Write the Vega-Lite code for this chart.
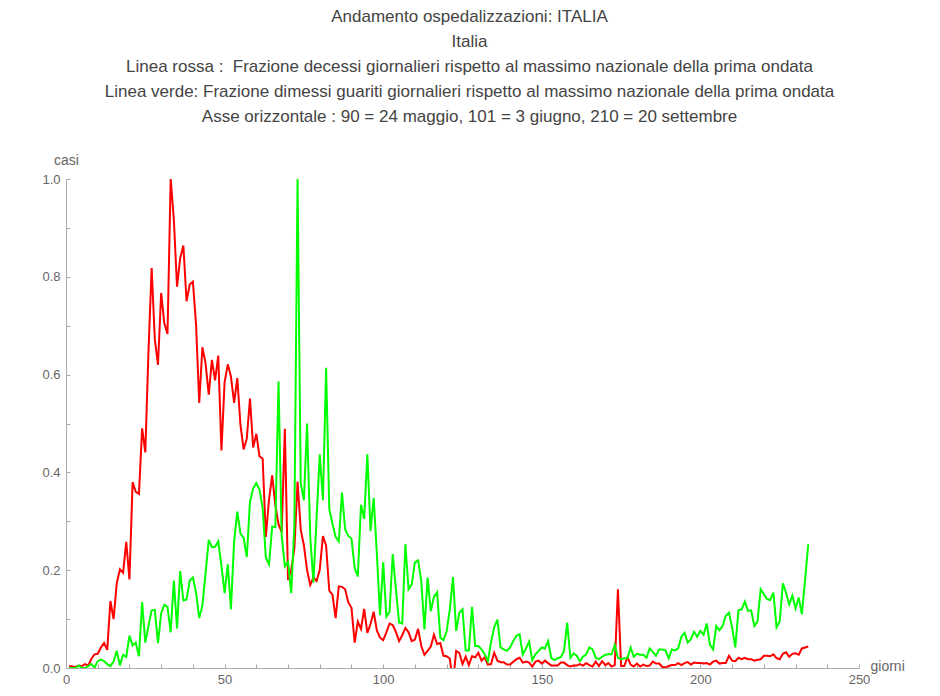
{
  "$schema": "https://vega.github.io/schema/vega-lite/v6.json",
  "width": 793,
  "height": 489,
  "autosize": "none",
  "padding": {"left": 66, "top": 179, "right": 81, "bottom": 28},
  "background": "white",
  "title": {
    "text": [
      "Andamento ospedalizzazioni: ITALIA",
      "Italia",
      "Linea rossa :\u00a0 Frazione decessi giornalieri rispetto al massimo nazionale della prima ondata",
      "Linea verde: Frazione dimessi guariti giornalieri rispetto al massimo nazionale della prima ondata",
      "Asse orizzontale : 90 = 24 maggio, 101 = 3 giugno, 210 = 20 settembre"
    ],
    "anchor": "middle",
    "frame": "group",
    "dx": 7,
    "offset": 27,
    "font": "Liberation Sans",
    "fontSize": 17,
    "fontWeight": "normal",
    "color": "#444444",
    "lineHeight": 25
  },
  "config": {
    "view": {"stroke": null},
    "axis": {
      "grid": false,
      "domainColor": "#aaaaaa",
      "domainWidth": 1,
      "tickColor": "#aaaaaa",
      "labelColor": "#666666",
      "labelFont": "Liberation Sans",
      "labelFontSize": 13,
      "titleFont": "Liberation Sans",
      "titleFontSize": 14,
      "titleFontWeight": "normal",
      "titleColor": "#666666"
    }
  },
  "data": {
    "values": [
      {"g":1,"r":0.004,"v":0},{"g":2,"r":0.003,"v":0},{"g":3,"r":0.002,"v":0},{"g":4,"r":0.005,"v":0.005},{"g":5,"r":0.004,"v":0},
      {"g":6,"r":0.008,"v":0},{"g":7,"r":0.005,"v":0.004},{"g":8,"r":0.019,"v":0.008},{"g":9,"r":0.028,"v":0.001},{"g":10,"r":0.029,"v":0.014},
      {"g":11,"r":0.042,"v":0.017},{"g":12,"r":0.051,"v":0.014},{"g":13,"r":0.037,"v":0.008},{"g":14,"r":0.137,"v":0.004},{"g":15,"r":0.100,"v":0.013},
      {"g":16,"r":0.173,"v":0.035},{"g":17,"r":0.202,"v":0.005},{"g":18,"r":0.195,"v":0.027},{"g":19,"r":0.258,"v":0.023},{"g":20,"r":0.181,"v":0.066},
      {"g":21,"r":0.380,"v":0.046},{"g":22,"r":0.360,"v":0.052},{"g":23,"r":0.356,"v":0.024},{"g":24,"r":0.490,"v":0.135},{"g":25,"r":0.441,"v":0.052},
      {"g":26,"r":0.647,"v":0.086},{"g":27,"r":0.818,"v":0.118},{"g":28,"r":0.672,"v":0.119},{"g":29,"r":0.620,"v":0.051},{"g":30,"r":0.767,"v":0.112},
      {"g":31,"r":0.705,"v":0.129},{"g":32,"r":0.683,"v":0.125},{"g":33,"r":1.000,"v":0.073},{"g":34,"r":0.917,"v":0.179},{"g":35,"r":0.780,"v":0.081},
      {"g":36,"r":0.838,"v":0.198},{"g":37,"r":0.864,"v":0.138},{"g":38,"r":0.750,"v":0.140},{"g":39,"r":0.784,"v":0.179},{"g":40,"r":0.790,"v":0.185},
      {"g":41,"r":0.703,"v":0.154},{"g":42,"r":0.542,"v":0.102},{"g":43,"r":0.656,"v":0.128},{"g":44,"r":0.623,"v":0.194},{"g":45,"r":0.559,"v":0.262},
      {"g":46,"r":0.630,"v":0.247},{"g":47,"r":0.588,"v":0.248},{"g":48,"r":0.639,"v":0.259},{"g":49,"r":0.445,"v":0.209},{"g":50,"r":0.584,"v":0.153},
      {"g":51,"r":0.621,"v":0.212},{"g":52,"r":0.596,"v":0.120},{"g":53,"r":0.542,"v":0.259},{"g":54,"r":0.593,"v":0.320},{"g":55,"r":0.497,"v":0.275},
      {"g":56,"r":0.447,"v":0.266},{"g":57,"r":0.469,"v":0.227},{"g":58,"r":0.551,"v":0.340},{"g":59,"r":0.451,"v":0.367},{"g":60,"r":0.479,"v":0.378},
      {"g":61,"r":0.433,"v":0.365},{"g":62,"r":0.428,"v":0.327},{"g":63,"r":0.268,"v":0.226},{"g":64,"r":0.344,"v":0.212},{"g":65,"r":0.394,"v":0.289},
      {"g":66,"r":0.333,"v":0.288},{"g":67,"r":0.294,"v":0.586},{"g":68,"r":0.278,"v":0.270},{"g":69,"r":0.489,"v":0.208},{"g":70,"r":0.180,"v":0.217},
      {"g":71,"r":0.201,"v":0.153},{"g":72,"r":0.244,"v":0.293},{"g":73,"r":0.381,"v":1.000},{"g":74,"r":0.283,"v":0.378},{"g":75,"r":0.251,"v":0.343},
      {"g":76,"r":0.200,"v":0.500},{"g":77,"r":0.170,"v":0.269},{"g":78,"r":0.185,"v":0.175},{"g":79,"r":0.178,"v":0.306},{"g":80,"r":0.201,"v":0.437},
      {"g":81,"r":0.270,"v":0.343},{"g":82,"r":0.250,"v":0.614},{"g":83,"r":0.158,"v":0.325},{"g":84,"r":0.150,"v":0.295},{"g":85,"r":0.102,"v":0.268},
      {"g":86,"r":0.167,"v":0.259},{"g":87,"r":0.166,"v":0.359},{"g":88,"r":0.161,"v":0.284},{"g":89,"r":0.134,"v":0.270},{"g":90,"r":0.123,"v":0.265},
      {"g":91,"r":0.052,"v":0.205},{"g":92,"r":0.095,"v":0.187},{"g":93,"r":0.080,"v":0.334},{"g":94,"r":0.121,"v":0.305},{"g":95,"r":0.072,"v":0.437},
      {"g":96,"r":0.090,"v":0.280},{"g":97,"r":0.115,"v":0.348},{"g":98,"r":0.077,"v":0.234},{"g":99,"r":0.062,"v":0.108},{"g":100,"r":0.057,"v":0.216},
      {"g":101,"r":0.073,"v":0.105},{"g":102,"r":0.091,"v":0.115},{"g":103,"r":0.088,"v":0.233},{"g":104,"r":0.074,"v":0.162},{"g":105,"r":0.055,"v":0.093},
      {"g":106,"r":0.067,"v":0.091},{"g":107,"r":0.082,"v":0.253},{"g":108,"r":0.073,"v":0.161},{"g":109,"r":0.055,"v":0.171},{"g":110,"r":0.058,"v":0.216},
      {"g":111,"r":0.080,"v":0.220},{"g":112,"r":0.045,"v":0.178},{"g":113,"r":0.027,"v":0.079},{"g":114,"r":0.035,"v":0.185},{"g":115,"r":0.044,"v":0.116},
      {"g":116,"r":0.068,"v":0.146},{"g":117,"r":0.049,"v":0.155},{"g":118,"r":0.051,"v":0.062},{"g":119,"r":0.025,"v":0.057},{"g":120,"r":0.024,"v":0.075},
      {"g":121,"r":0.019,"v":0.120},{"g":122,"r":-0.032,"v":0.186},{"g":123,"r":0.035,"v":0.076},{"g":124,"r":0.031,"v":0.113},{"g":125,"r":0.008,"v":0.120},
      {"g":126,"r":0.023,"v":0.036},{"g":127,"r":0.006,"v":0.036},{"g":128,"r":0.024,"v":0.125},{"g":129,"r":0.022,"v":0.045},{"g":130,"r":0.031,"v":0.045},
      {"g":131,"r":0.015,"v":0.038},{"g":132,"r":0.022,"v":0.028},{"g":133,"r":0.007,"v":0.014},{"g":134,"r":0.008,"v":0.053},{"g":135,"r":0.031,"v":0.083},
      {"g":136,"r":0.015,"v":0.099},{"g":137,"r":0.012,"v":0.042},{"g":138,"r":0.012,"v":0.038},{"g":139,"r":0.007,"v":0.035},{"g":140,"r":0.007,"v":0.042},
      {"g":141,"r":0.013,"v":0.055},{"g":142,"r":0.018,"v":0.066},{"g":143,"r":0.021,"v":0.069},{"g":144,"r":0.011,"v":0.028},{"g":145,"r":0.013,"v":0.040},
      {"g":146,"r":0.011,"v":0.054},{"g":147,"r":0.003,"v":0.016},{"g":148,"r":0.013,"v":0.028},{"g":149,"r":0.015,"v":0.035},{"g":150,"r":0.009,"v":0.042},
      {"g":151,"r":0.015,"v":0.040},{"g":152,"r":0.010,"v":0.055},{"g":153,"r":0.005,"v":0.020},{"g":154,"r":0.005,"v":0.016},{"g":155,"r":0.005,"v":0.020},
      {"g":156,"r":0.011,"v":0.022},{"g":157,"r":0.011,"v":0.035},{"g":158,"r":0.006,"v":0.093},{"g":159,"r":0.003,"v":0.021},{"g":160,"r":0.005,"v":0.030},
      {"g":161,"r":0.005,"v":0.025},{"g":162,"r":0.008,"v":0.014},{"g":163,"r":0.005,"v":0.023},{"g":164,"r":0.010,"v":0.028},{"g":165,"r":0.006,"v":0.042},
      {"g":166,"r":0.003,"v":0.038},{"g":167,"r":0.013,"v":0.021},{"g":168,"r":0.004,"v":0.018},{"g":169,"r":0.014,"v":0.023},{"g":170,"r":0.006,"v":0.027},
      {"g":171,"r":0.010,"v":0.028},{"g":172,"r":0.003,"v":0.028},{"g":173,"r":0.006,"v":0.047},{"g":174,"r":0.161,"v":0.021},{"g":175,"r":0.004,"v":0.018},
      {"g":176,"r":0.004,"v":0.020},{"g":177,"r":0.022,"v":0.020},{"g":178,"r":0.007,"v":0.042},{"g":179,"r":0.003,"v":0.023},{"g":180,"r":0.009,"v":0.029},
      {"g":181,"r":0.003,"v":0.027},{"g":182,"r":0.007,"v":0.027},{"g":183,"r":0.004,"v":0.021},{"g":184,"r":0.005,"v":0.040},{"g":185,"r":0.013,"v":0.033},
      {"g":186,"r":0.009,"v":0.025},{"g":187,"r":0.009,"v":0.038},{"g":188,"r":0.002,"v":0.038},{"g":189,"r":0.001,"v":0.036},{"g":190,"r":0.004,"v":0.020},
      {"g":191,"r":0.006,"v":0.038},{"g":192,"r":0.006,"v":0.036},{"g":193,"r":0.010,"v":0.040},{"g":194,"r":0.006,"v":0.064},{"g":195,"r":0.010,"v":0.072},
      {"g":196,"r":0.012,"v":0.052},{"g":197,"r":0.007,"v":0.059},{"g":198,"r":0.011,"v":0.074},{"g":199,"r":0.010,"v":0.064},{"g":200,"r":0.010,"v":0.076},
      {"g":201,"r":0.009,"v":0.068},{"g":202,"r":0.010,"v":0.091},{"g":203,"r":0.007,"v":0.048},{"g":204,"r":0.013,"v":0.038},{"g":205,"r":0.015,"v":0.086},
      {"g":206,"r":0.009,"v":0.077},{"g":207,"r":0.010,"v":0.086},{"g":208,"r":0.010,"v":0.107},{"g":209,"r":0.025,"v":0.113},{"g":210,"r":0.015,"v":0.083},
      {"g":211,"r":0.014,"v":0.042},{"g":212,"r":0.021,"v":0.118},{"g":213,"r":0.018,"v":0.120},{"g":214,"r":0.021,"v":0.136},{"g":215,"r":0.018,"v":0.117},
      {"g":216,"r":0.018,"v":0.118},{"g":217,"r":0.015,"v":0.086},{"g":218,"r":0.017,"v":0.095},{"g":219,"r":0.018,"v":0.161},{"g":220,"r":0.025,"v":0.151},
      {"g":221,"r":0.025,"v":0.141},{"g":222,"r":0.024,"v":0.139},{"g":223,"r":0.028,"v":0.154},{"g":224,"r":0.020,"v":0.083},{"g":225,"r":0.018,"v":0.095},
      {"g":226,"r":0.029,"v":0.173},{"g":227,"r":0.032,"v":0.154},{"g":228,"r":0.023,"v":0.130},{"g":229,"r":0.029,"v":0.148},{"g":230,"r":0.030,"v":0.122},
      {"g":231,"r":0.027,"v":0.144},{"g":232,"r":0.040,"v":0.110},{"g":233,"r":0.042,"v":0.180},{"g":234,"r":0.044,"v":0.253}
    ]
  },
  "encoding": {
    "x": {
      "field": "g",
      "type": "quantitative",
      "scale": {"domain": [0, 250], "nice": false, "zero": true},
      "axis": {
        "values": [0,10,20,30,40,50,60,70,80,90,100,110,120,130,140,150,160,170,180,190,200,210,220,230,240,250],
        "labelExpr": "datum.value % 50 === 0 ? datum.label : ''",
        "tickSize": -4,
        "labelPadding": 9,
        "labelFlush": false,
        "labelOverlap": false,
        "title": "giorni",
        "titleAnchor": "start",
        "titleAlign": "left",
        "titleBaseline": "middle",
        "titleX": 804,
        "titleY": -2
      }
    }
  },
  "layer": [
    {
      "mark": {"type": "line", "color": "#ff0000", "strokeWidth": 2, "clip": true},
      "encoding": {
        "y": {
          "field": "r",
          "type": "quantitative",
          "scale": {"domain": [0, 1], "nice": false},
          "axis": {
            "values": [0,0.05,0.1,0.15,0.2,0.25,0.3,0.35,0.4,0.45,0.5,0.55,0.6,0.65,0.7,0.75,0.8,0.85,0.9,0.95,1.0],
            "labelExpr": "abs(datum.value*5 - round(datum.value*5)) < 0.001 ? format(datum.value, '.1f') : ''",
            "tickSize": -4,
            "labelPadding": 10,
            "labelFlush": false,
            "labelOverlap": false,
            "title": "casi",
            "titleAngle": 0,
            "titleAlign": "center",
            "titleBaseline": "alphabetic",
            "titleX": 0,
            "titleY": -15
          }
        }
      }
    },
    {
      "mark": {"type": "line", "color": "#00ff00", "strokeWidth": 2, "clip": true},
      "encoding": {
        "y": {"field": "v", "type": "quantitative"}
      }
    }
  ]
}
